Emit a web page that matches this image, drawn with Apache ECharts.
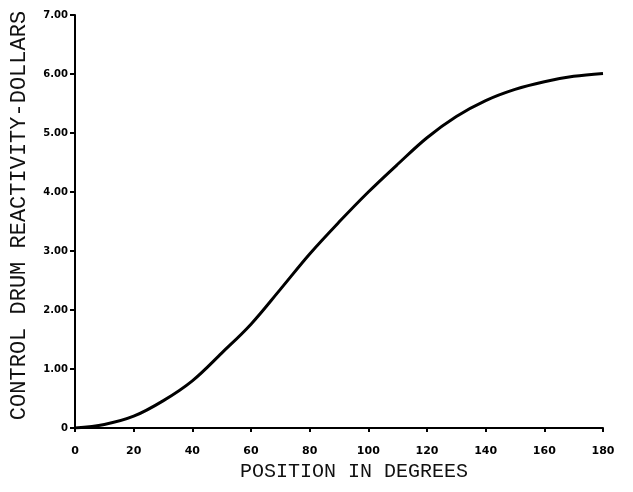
<!DOCTYPE html>
<html>
<head>
<meta charset="utf-8">
<script src="https://cdn.jsdelivr.net/npm/echarts@6/dist/echarts.min.js"></script>
<style>
html,body{margin:0;padding:0;background:#fff;}
#chart{width:633px;height:492px;}
</style>
</head>
<body>
<div id="chart"></div>
<script>
const positions = [0, 10, 20, 30, 40, 50, 60, 70, 80, 90, 100, 110, 120, 130, 140, 150, 160, 170, 180];
const reactivity = [0, 0.06, 0.2, 0.46, 0.8, 1.27, 1.76, 2.35, 2.95, 3.49, 4.0, 4.47, 4.92, 5.28, 5.55, 5.74, 5.87, 5.96, 6.01];
const xTicks = [0, 20, 40, 60, 80, 100, 120, 140, 160, 180];
const yTickLabels = ['0', '1.00', '2.00', '3.00', '4.00', '5.00', '6.00', '7.00'];

const chart = echarts.init(document.getElementById('chart'));
const mono = '"Liberation Mono", "DejaVu Sans Mono", monospace';
chart.setOption({
  animation: false,
  backgroundColor: '#fff',
  grid: {left: 73, right: 30, top: 15, bottom: 64},
  xAxis: {
    type: 'value', min: 0, max: 180, interval: 20,
    name: 'POSITION IN DEGREES', nameLocation: 'middle', nameGap: 27,
    nameTextStyle: {fontFamily: mono, fontSize: 20, color: '#111', padding: [0, 0, 0, 30]},
    axisLine: {show: true, lineStyle: {color: '#000', width: 2}},
    axisTick: {show: true, length: 4, lineStyle: {color: '#000', width: 2}},
    axisLabel: {
      margin: 18, fontSize: 11, fontWeight: 'bold', color: '#000', fontFamily: '"DejaVu Sans", sans-serif',
      formatter: v => xTicks.includes(v) ? String(v) : ''
    },
    splitLine: {show: false}
  },
  yAxis: {
    type: 'value', min: 0, max: 7, interval: 1,
    name: 'CONTROL DRUM REACTIVITY-DOLLARS', nameLocation: 'middle', nameGap: 45, nameRotate: 90,
    nameTextStyle: {fontFamily: mono, fontSize: 22, color: '#111', padding: [0, 0, 0, 12]},
    axisLine: {show: true, lineStyle: {color: '#000', width: 2}},
    axisTick: {show: true, length: 5, lineStyle: {color: '#000', width: 2}},
    axisLabel: {
      margin: 7, fontSize: 10, fontWeight: 'bold', color: '#000', fontFamily: '"DejaVu Sans", sans-serif',
      formatter: v => yTickLabels[Math.round(v)]
    },
    splitLine: {show: false}
  },
  series: [{
    type: 'line',
    data: positions.map((p, i) => [p, reactivity[i]]),
    smooth: 0.35,
    showSymbol: false,
    lineStyle: {color: '#000', width: 3}
  }]
});
</script>
</body>
</html>
